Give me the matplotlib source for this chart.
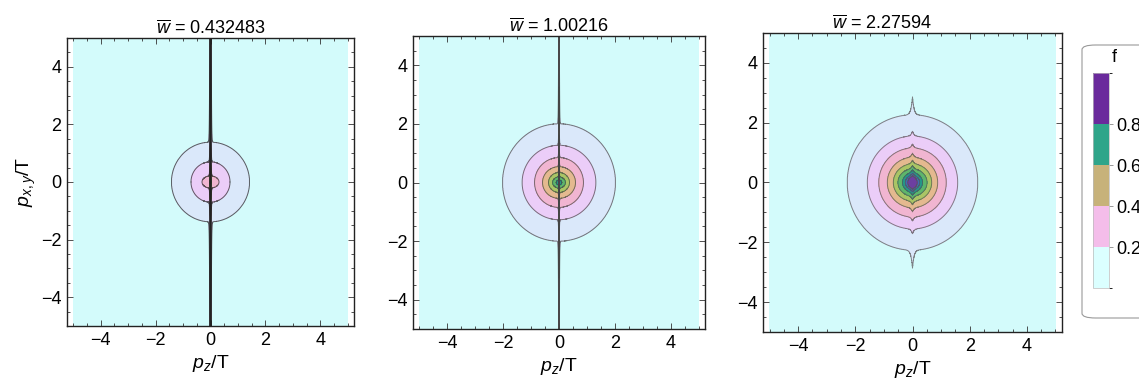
import numpy as np
import matplotlib
matplotlib.use("Agg")
import matplotlib.pyplot as plt
from matplotlib.colors import ListedColormap, BoundaryNorm
from matplotlib.patches import FancyBboxPatch
from matplotlib.ticker import MultipleLocator
import matplotlib.colorbar as mcolorbar

plt.rcParams['font.family'] = ['Liberation Sans', 'DejaVu Sans']
plt.rcParams['mathtext.fontset'] = 'custom'
plt.rcParams['mathtext.rm'] = 'Liberation Sans'
plt.rcParams['mathtext.it'] = 'Liberation Sans:italic'

# ---- data ----
titles = ["0.432483", "1.00216", "2.27594"]
contour_levels = [0.1, 0.2, 0.3, 0.4, 0.5, 0.6, 0.7, 0.8, 0.9]
# horizontal / vertical half-widths of each contour (level 0.1, 0.2, ...)
p1_rx = [1.42, 0.71, 0.31]
p1_ry = [1.38, 0.70, 0.21]
p1_peak = 0.36
p2_rx = [2.02, 1.32, 0.875, 0.59, 0.375, 0.23, 0.10]
p2_ry = [2.00, 1.27, 0.85, 0.54, 0.34, 0.19, 0.08]
p2_peak = 0.76
p3_rx = [2.28, 1.58, 1.18, 0.88, 0.67, 0.51, 0.35, 0.25, 0.16]
p3_ry = [2.26, 1.55, 1.15, 0.84, 0.62, 0.45, 0.32, 0.23, 0.17]
p3_peak = 0.97
# ridge along p_z = 0 : (additive height, relative boost, width)
ridge_add = [1.0, 0.3, 0.0]
ridge_rel = [0.5, 0.3, 0.13]
ridge_width = [0.01, 0.008, 0.05]

band_colors = ['#d3fbfb', '#dae8fa', '#ebcdf8', '#f1b5d1', '#e4b98f',
               '#a9c565', '#5db66b', '#23998a', '#3e70b1', '#6d3fa1']
cbar_bounds = [0.0, 0.2, 0.4, 0.6, 0.8, 1.05]
cbar_colors = ['#dbffff', '#f4bdea', '#c7b27a', '#2fa58a', '#6a2a9c']
cbar_ticks = [0.2, 0.4, 0.6, 0.8]


def radial_field(PZ, PY, rx, ry, peak, far_r=7.5):
    r = np.hypot(PZ, PY)
    th = np.arctan2(PY, PZ)
    c2 = np.cos(th) ** 2
    s2 = np.sin(th) ** 2
    n = len(rx)
    radii = [np.zeros_like(r)]
    vals = [peak]
    for k in reversed(range(n)):
        radii.append(1.0 / np.sqrt(c2 / rx[k] ** 2 + s2 / ry[k] ** 2))
        vals.append(contour_levels[k])
    radii.append(np.full_like(r, far_r))
    vals.append(0.0)
    f = np.zeros_like(r)
    for i in range(len(radii) - 1):
        ra, rb = radii[i], radii[i + 1]
        m = (r >= ra) & (r < rb)
        t = (r - ra) / np.maximum(rb - ra, 1e-9)
        f = np.where(m, vals[i] + t * (vals[i + 1] - vals[i]), f)
    return f


pz = np.unique(np.concatenate([np.linspace(-5, 5, 1001), np.linspace(-0.3, 0.3, 1201)]))
py = np.linspace(-5, 5, 801)
PZ, PY = np.meshgrid(pz, py)

fig = plt.figure(figsize=(11.39, 3.88), dpi=100)
W, H = 1139.0, 388.0
boxes = [(67, 38, 354, 326), (413, 36, 705, 329), (763, 33, 1062, 332)]
params = [(p1_rx, p1_ry, p1_peak), (p2_rx, p2_ry, p2_peak), (p3_rx, p3_ry, p3_peak)]
title_x = [0.5, 0.5, 0.398]
line_colors = ['#222222', '#444444', '#555555']

fill_levels = [-0.01] + contour_levels + [5.0]

for i in range(3):
    x0, y0, x1, y1 = boxes[i]
    ax = fig.add_axes([x0 / W, 1 - y1 / H, (x1 - x0) / W, (y1 - y0) / H])
    rx, ry, pk = params[i]
    base = radial_field(PZ, PY, rx, ry, pk)
    g = np.exp(-np.abs(PZ) / ridge_width[i])
    F = base * (1 + ridge_rel[i] * g) + ridge_add[i] * g
    ax.contourf(PZ, PY, F, levels=fill_levels, colors=band_colors)
    ax.contour(PZ, PY, F, levels=contour_levels, colors=line_colors[i],
               linewidths=0.7, alpha=0.7)
    ax.set_xlim(-5.23, 5.23)
    ax.set_ylim(-5, 5)
    ax.xaxis.set_major_locator(MultipleLocator(2))
    ax.yaxis.set_major_locator(MultipleLocator(2))
    ax.xaxis.set_minor_locator(MultipleLocator(0.5))
    ax.yaxis.set_minor_locator(MultipleLocator(0.5))
    ax.tick_params(which='both', direction='in', top=True, right=True,
                   color='#333333', width=0.6, labelsize=13, pad=4)
    ax.tick_params(which='major', length=4)
    ax.tick_params(which='minor', length=2)
    for s in ax.spines.values():
        s.set_linewidth(1.0)
        s.set_color('#222222')
    ax.set_xlabel(r'$p_z$/T', fontsize=14, labelpad=3)
    if i == 0:
        ax.set_ylabel(r'$p_{x,y}$/T', fontsize=14, labelpad=2)
    ax.set_title(r'$\overline{w}$ = ' + titles[i], fontsize=13, pad=2, x=title_x[i])

# legend box with colour bar
box = FancyBboxPatch((1082 / W, 1 - 318 / H), 80 / W, 273 / H,
                     boxstyle='round,pad=0,rounding_size=0.012',
                     transform=fig.transFigure, facecolor='white',
                     edgecolor='#999999', linewidth=0.8, clip_on=False,
                     zorder=-1)
fig.add_artist(box)
fig.text(1114 / W, 1 - 58 / H, 'f', fontsize=13, ha='center', va='center')

cax = fig.add_axes([1093 / W, 1 - 288 / H, 16 / W, 215 / H])
cax.set_zorder(5)
cmap = ListedColormap(cbar_colors)
norm = BoundaryNorm(cbar_bounds, cmap.N)
cb = mcolorbar.ColorbarBase(cax, cmap=cmap, norm=norm, boundaries=cbar_bounds,
                            ticks=cbar_ticks, spacing='proportional')
cb.outline.set_edgecolor('#bbbbbb')
cb.outline.set_linewidth(0.5)
cax.tick_params(length=3, width=0.6, color='#888888', labelsize=13, pad=2)
cax.set_yticklabels(['0.2', '0.4', '0.6', '0.8'])

fig.savefig('out.png', dpi=100)
